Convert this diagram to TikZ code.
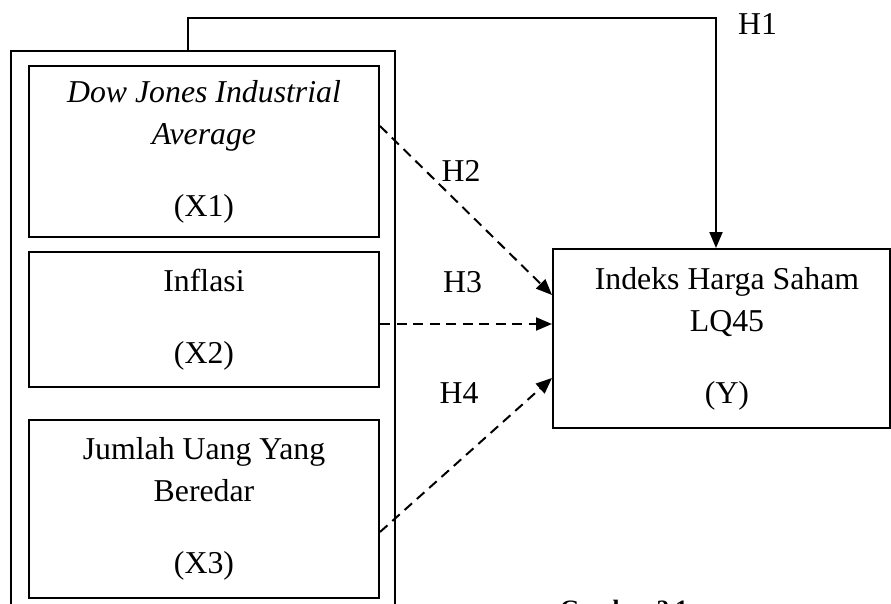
\documentclass[tikz,border=0pt]{standalone}
\usepackage{fontspec}
\setmainfont{Liberation Serif}
\usetikzlibrary{arrows.meta,calc}
\begin{document}
\begin{tikzpicture}[x=1pt,y=-1pt,
  txt/.style={font=\fontsize{31.8}{42}\selectfont},
  box/.style={draw, line width=2pt, inner sep=0pt, align=center, txt},
  frame/.style={draw, line width=2pt, inner sep=0pt},
  lbl/.style={inner sep=0pt, txt},
  solidarrow/.style={line width=2pt, -{Triangle[length=16pt,width=13pt]}},
  dasharrow/.style={line width=2pt, dash pattern=on 10pt off 6.5pt, -{Triangle[length=16pt,width=13pt]}}
]
\useasboundingbox (0,0) rectangle (891,604);
\clip (0,0) rectangle (891,604);

\node[frame, minimum width=384pt, minimum height=588pt] (outer) at (203,345.5) {};

\node[box, minimum width=350pt, minimum height=171.3pt] (x1) at (204,151.4)
  {\textit{Dow Jones Industrial}\\\textit{Average}\\[30pt](X1)};
\node[box, minimum width=350pt, minimum height=135pt] (x2) at (204,319.2)
  {Inflasi\\[30pt](X2)};
\node[box, minimum width=350pt, minimum height=178pt] (x3) at (204,509)
  {Jumlah Uang Yang\\Beredar\\[30pt](X3)};

\node[box, minimum width=337pt, minimum height=179pt] (y) at (721.5,338.5)
  {\hspace*{11pt}Indeks Harga Saham\\\hspace*{11pt}LQ45\\[30pt]\hspace*{11pt}(Y)};

\coordinate (h1s) at ($(outer.north)+(-15,0)$);
\coordinate (h1bend) at (188,18);
\draw[solidarrow] (h1s) -- (h1bend) -| ([xshift=-5.5pt]y.north);

\draw[dasharrow] ([yshift=25.4pt]x1.east) -- ([yshift=43.5pt]y.west);
\draw[dasharrow] ([yshift=-4.8pt]x2.east) -- ([yshift=14.5pt]y.west);
\draw[dasharrow] ([yshift=-23pt]x3.east) -- ([yshift=-39.5pt]y.west);

\node[lbl] (h1) at (757.5,24) {H1};
\node[lbl] (h2) at (461,171) {H2};
\node[lbl] (h3) at (462.5,282.5) {H3};
\node[lbl] (h4) at (459,393) {H4};

\node[inner sep=0pt, anchor=north west, font=\bfseries\fontsize{25}{30}\selectfont] (cap) at (560,599.5) {Gambar 2.1};
\end{tikzpicture}
\end{document}
